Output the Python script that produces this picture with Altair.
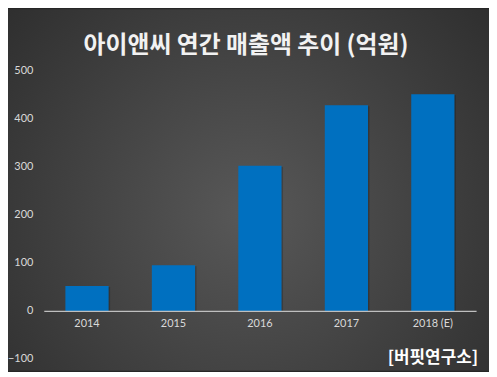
import altair as alt
import pandas as pd

years = ["2014", "2015", "2016", "2017", "2018 (E)"]
sales = [52, 95, 302, 428, 451]
title_text = "아이앤씨 연간 매출액 추이 (억원)"
source_text = "[버핏연구소]"
y_ticks = [-100, 0, 100, 200, 300, 400, 500]

df = pd.DataFrame({"year": years, "value": sales})
one = pd.DataFrame({"a": [0]})

W, H = 435, 290
PAD = {"left": 36, "top": 62, "right": 13, "bottom": 12}

grad = alt.Gradient(
    gradient="radial",
    stops=[
        alt.GradientStop(offset=0, color="#585858"),
        alt.GradientStop(offset=1, color="#262626"),
    ],
    x1=0.5, y1=0.55, r1=0, x2=0.5, y2=0.55, r2=0.8,
)

bg = alt.Chart(one).mark_rect(color=grad, clip=False).encode(
    x=alt.value(-PAD["left"]),
    x2=alt.value(W + PAD["right"]),
    y=alt.value(-PAD["top"]),
    y2=alt.value(H + PAD["bottom"]),
)

xenc = alt.X(
    "year:N",
    sort=years,
    scale=alt.Scale(paddingInner=0.5, paddingOuter=0.25),
    axis=alt.Axis(
        title=None, labelAngle=0, labelAlign="center", labelBaseline="top",
        ticks=False, domainColor="#bfbfbf",
        domainWidth=1.2, labelColor="#d9d9d9", labelFontSize=11,
        labelFont="Lato", labelPadding=7, offset=-(H - H * 500 / 600),
        zindex=1,
    ),
)
yenc = alt.Y(
    "value:Q",
    scale=alt.Scale(domain=[-100, 500], nice=False),
    axis=alt.Axis(
        title=None, values=y_ticks, grid=False, domain=False, ticks=False,
        labelColor="#d9d9d9", labelFontSize=11, labelFont="Lato",
        labelPadding=11, zindex=1,
    ),
)

shadow = alt.Chart(df).mark_bar(color="black", opacity=0.2, xOffset=1.5, yOffset=1).encode(
    x=alt.X("year:N", sort=years), y=alt.Y("value:Q")
)
bars = alt.Chart(df).mark_bar(color="#0070C0").encode(x=xenc, y=yenc)

TX, TY = W / 2 - 14, -25
title = alt.Chart(one).mark_text(
    text=title_text, font="Noto Sans CJK KR", fontSize=24, fontWeight="bold",
    color="#f2f2f2", align="center", baseline="middle",
).encode(x=alt.value(TX), y=alt.value(TY))

source = alt.Chart(one).mark_text(
    text=source_text, font="Noto Sans CJK KR", fontSize=17, fontWeight="bold",
    color="#ffffff", align="right", baseline="middle",
).encode(x=alt.value(W + 2), y=alt.value(289))

chart = alt.layer(bg, shadow, bars, title, source).properties(
    width=W, height=H,
    padding=PAD,
    autosize=alt.AutoSizeParams(type="none"),
    background="#262626",
).configure_view(stroke=None)

chart.save("out.html", embed_options={"renderer": "svg", "actions": False})
